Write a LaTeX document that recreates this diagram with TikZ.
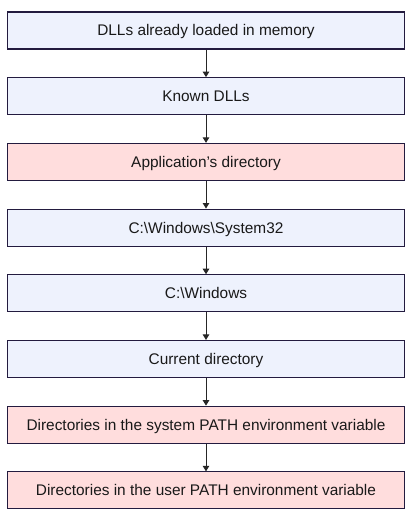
\documentclass[tikz,border=0pt]{standalone}
\usepackage{fontspec}
\setmainfont{Liberation Sans}
\usetikzlibrary{arrows.meta}
\definecolor{bluefill}{HTML}{EEF2FD}
\definecolor{pinkfill}{HTML}{FFDDDD}
\definecolor{edge}{HTML}{231B3F}
\tikzset{
  stepbox/.style={draw=edge, line width=1.1pt, minimum width=397pt, minimum height=37pt,
    inner sep=0pt, text height=11pt, text depth=0pt,
    font=\fontsize{15.4pt}{18pt}\selectfont, text=black!90},
  bluebox/.style={stepbox, fill=bluefill},
  pinkbox/.style={stepbox, fill=pinkfill},
  conn/.style={draw=black!85, line width=1pt, -{Triangle[length=5.5pt,width=6.5pt]}}
}
\begin{document}
\begin{tikzpicture}[x=1pt,y=1pt]
\useasboundingbox (0,0) rectangle (414,524);
\node[bluebox] (n1) at (206,493.5) {DLLs already loaded in memory};
\node[bluebox] (n2) at (206,427.8) {Known DLLs};
\node[pinkbox] (n3) at (206,362.1) {Application’s directory};
\node[bluebox] (n4) at (206,296.4) {C:\textbackslash Windows\textbackslash System32};
\node[bluebox] (n5) at (206,230.7) {C:\textbackslash Windows};
\node[bluebox] (n6) at (206,165.0) {Current directory};
\node[pinkbox] (n7) at (206,99.3) {Directories in the system PATH environment variable};
\node[pinkbox] (n8) at (206,33.6) {Directories in the user PATH environment variable};
\foreach \a/\b in {n1/n2,n2/n3,n3/n4,n4/n5,n5/n6,n6/n7,n7/n8}
  \draw[conn] (\a.south) -- (\b.north);
\end{tikzpicture}
\end{document}
